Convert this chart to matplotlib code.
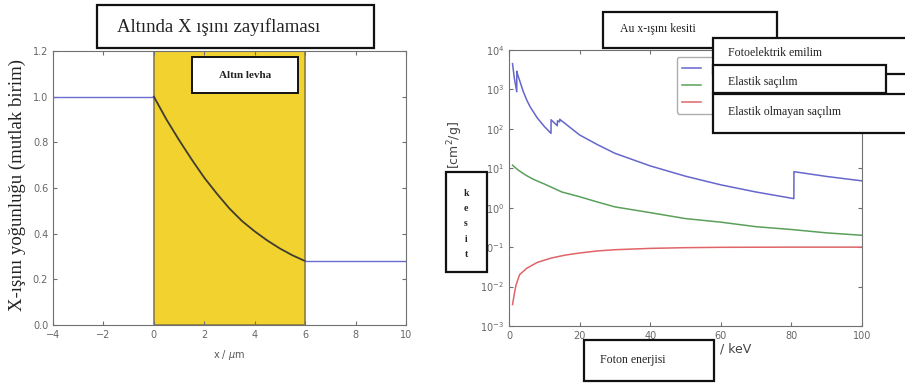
import matplotlib
matplotlib.use("Agg")
import matplotlib.pyplot as plt
from matplotlib.patches import Rectangle

# left panel: intensity through a gold slab
before_x = [-4, 0]
before_y = [1.0, 1.0]
slab_x = [0, 0.5, 1, 1.5, 2, 2.5, 3, 3.5, 4, 4.5, 5, 5.5, 6]
slab_y = [1.0, 0.90, 0.81, 0.725, 0.645, 0.575, 0.51, 0.455, 0.41, 0.37, 0.335, 0.305, 0.28]
after_x = [6, 10]
after_y = [0.28, 0.28]

# right panel: Au cross sections (cm^2/g) vs photon energy (keV)
e_photo = [1.0, 1.5, 2.2, 2.21, 2.5, 3, 4, 5, 6, 8, 10, 11.9, 11.92, 13.7, 13.72,
           14.35, 14.37, 20, 25, 30, 40, 50, 60, 70, 80.7, 80.72, 90, 100]
mu_photo = [4500, 1950, 870, 2900, 2300, 1700, 900, 545, 360, 190, 115, 77, 170, 120, 160,
            150, 175, 70, 40, 24, 11.5, 6.3, 3.8, 2.5, 1.7, 8.2, 6.2, 4.8]
e_elastic = [1, 2, 3, 5, 7, 10, 15, 20, 25, 30, 40, 50, 60, 70, 80, 90, 100]
mu_elastic = [12, 10, 8.5, 6.5, 5.2, 4.0, 2.5, 1.9, 1.4, 1.05, 0.75, 0.53, 0.43, 0.33, 0.28, 0.23, 0.20]
e_inelastic = [1, 1.5, 2, 3, 5, 8, 12, 16, 20, 25, 30, 40, 50, 60, 80, 100]
mu_inelastic = [0.0035, 0.0065, 0.011, 0.02, 0.029, 0.041, 0.053, 0.063, 0.071, 0.080,
                0.086, 0.093, 0.097, 0.099, 0.10, 0.10]

SERIF = ["Liberation Serif", "DejaVu Serif"]
tick_color = "#666666"
spine_color = "#707070"

fig = plt.figure(figsize=(9.05, 3.83), dpi=100)
W, H = 905, 383


def px_axes(x0, y0, x1, y1):
    return fig.add_axes([x0 / W, 1 - y1 / H, (x1 - x0) / W, (y1 - y0) / H])


def style(ax):
    for s in ax.spines.values():
        s.set_color(spine_color)
    ax.tick_params(direction="in", top=True, right=True, labelsize=7,
                   labelcolor=tick_color, color=spine_color, length=3)


def box(x0, y0, x1, y1, lw=1.6):
    fig.patches.append(Rectangle((x0 / W, 1 - y1 / H), (x1 - x0) / W, (y1 - y0) / H,
                                 transform=fig.transFigure, facecolor="white",
                                 edgecolor="#111111", lw=lw, zorder=10))


def ftext(x, y, s, **kw):
    fig.text(x / W, 1 - y / H, s, zorder=11, **kw)


# ---- left
ax1 = px_axes(53, 51, 406, 325)
ax1.axvspan(0, 6, facecolor="#f2d22e", edgecolor="#8c7d3a", lw=1.2, zorder=1)
ax1.plot(before_x, before_y, color="#6b6bd2", lw=1, zorder=2)
ax1.plot(slab_x, slab_y, color="#403c30", lw=1.3, zorder=2)
ax1.plot(after_x, after_y, color="#6b6bd2", lw=1, zorder=2)
ax1.set_xlim(-4, 10)
ax1.set_ylim(0, 1.2)
ax1.set_xticks(range(-4, 11, 2))
ax1.set_yticks([0.0, 0.2, 0.4, 0.6, 0.8, 1.0, 1.2])
ax1.set_yticklabels(["0.0", "0.2", "0.4", "0.6", "0.8", "1.0", "1.2"])
style(ax1)
ax1.set_xlabel("x / $\\mu$m", fontsize=7, color="#555555", labelpad=6)
ftext(17, 185, "X-ışını yoğunluğu (mutlak birim)", family=SERIF, fontsize=13.5,
      color="#222222", rotation=90, ha="center", va="center")

# ---- right
ax2 = px_axes(509, 50, 862, 326)
ax2.plot(e_photo, mu_photo, color="#6666cc", lw=1.1, label="Fotoelektrik emilim")
ax2.plot(e_elastic, mu_elastic, color="#5aa05a", lw=1.1, label="Elastik saçılım")
ax2.plot(e_inelastic, mu_inelastic, color="#e06468", lw=1.1, label="Elastik olmayan saçılım")
ax2.set_yscale("log")
ax2.set_xlim(0, 100)
ax2.set_ylim(1e-3, 1e4)
ax2.set_xticks(range(0, 101, 20))
ax2.set_yticks([10.0 ** k for k in range(-3, 5)])
ax2.minorticks_off()
style(ax2)
leg = ax2.legend(loc="upper left", bbox_to_anchor=(677 / W, 1 - 57 / H),
                 bbox_transform=fig.transFigure, borderaxespad=0, fontsize=8.5,
                 handlelength=1.6, labelspacing=0.35, fancybox=True, edgecolor="#999999")
# the legend labels sit under the white text boxes
for t in leg.get_texts():
    t.set_visible(False)
ftext(455, 145, "[cm$^2$/g]", rotation=90, ha="center", va="center", fontsize=9,
      color="#444444")
ftext(720, 349, "/ keV", ha="left", va="center", fontsize=9, color="#444444")

# ---- overlaid text boxes
box(97, 5, 374, 48)
ftext(117, 27, "Altında X ışını zayıflaması", family=SERIF, fontsize=13.5,
      ha="left", va="center", color="#222222")
box(192, 57, 298, 93, lw=1.4)
ftext(245, 75, "Altın levha", family=SERIF, fontsize=8, ha="center", va="center",
      color="#222222", weight="bold")

box(603, 12, 777, 48)
ftext(620, 29, "Au x-ışını kesiti", family=SERIF, fontsize=8.5, ha="left", va="center",
      color="#222222")
box(713, 38, 912, 74)
ftext(728, 53, "Fotoelektrik emilim", family=SERIF, fontsize=8.5, ha="left", va="center",
      color="#222222")
box(713, 65, 886, 93)
ftext(728, 82, "Elastik saçılım", family=SERIF, fontsize=8.5, ha="left", va="center",
      color="#222222")
box(713, 94, 912, 133)
ftext(728, 112, "Elastik olmayan saçılım", family=SERIF, fontsize=8.5, ha="left",
      va="center", color="#222222")

box(446, 172, 487, 272)
ftext(466, 224, "k\ne\ns\ni\nt", family=SERIF, fontsize=7, ha="center", va="center",
      color="#222222", weight="bold", linespacing=1.9)
box(584, 340, 714, 381)
ftext(600, 360, "Foton enerjisi", family=SERIF, fontsize=8.5, ha="left", va="center",
      color="#222222")

fig.savefig("out.png", dpi=100)
